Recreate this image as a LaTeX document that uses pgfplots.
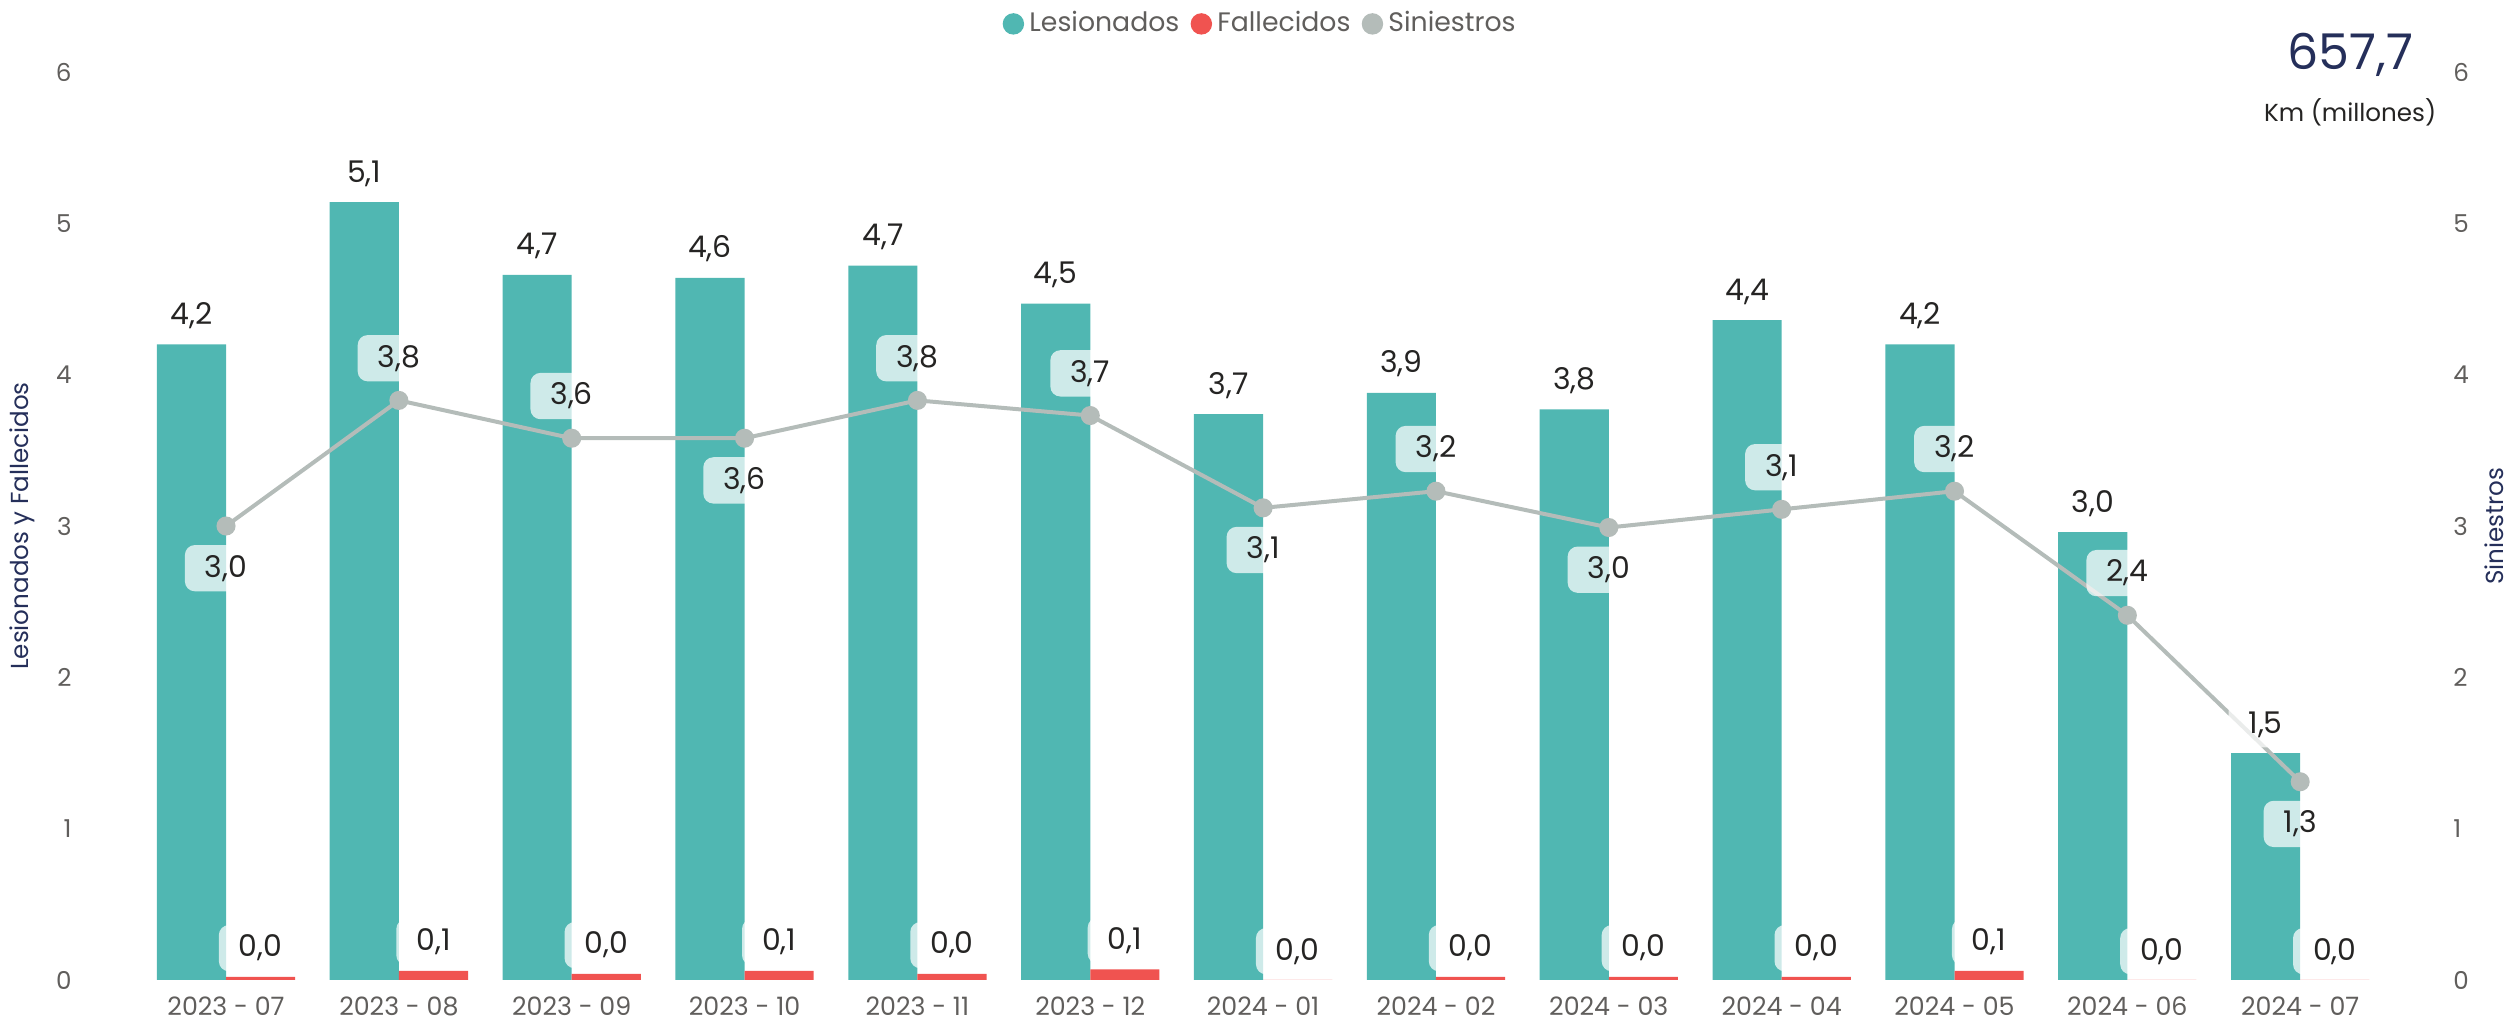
\documentclass[border=0pt]{standalone}
\usepackage{pgfplots}
\pgfplotsset{compat=1.18}
\usepackage{pgfplotstable}
\usepackage{fontspec}
\setmainfont{Poppins}

\definecolor{lesion}{RGB}{80,183,178}
\definecolor{fallec}{RGB}{240,83,80}
\definecolor{sinies}{RGB}{180,188,185}
\definecolor{txt}{RGB}{37,36,35}
\definecolor{tck}{RGB}{96,94,92}
\definecolor{navy}{RGB}{37,47,90}

% x: month index, les/fal: left axis, sin: right axis, dy: label offset (pt)
\pgfplotstableread{
x les  fal  sin  dy
0 4.20 0.02 3.00 -12
1 5.14 0.06 3.83 12
2 4.66 0.04 3.58 12
3 4.64 0.06 3.58 -12
4 4.72 0.04 3.83 12
5 4.47 0.07 3.73 12
6 3.74 0.00 3.12 -12
7 3.88 0.02 3.23 12
8 3.77 0.02 2.99 -12
9 4.36 0.02 3.11 12
10 4.20 0.06 3.23 12
11 2.96 0.00 2.41 12
12 1.50 0.00 1.31 -12
}\data

\tikzset{
  lbl/.style={font=\fontsize{8.5}{10}\selectfont, text=txt, fill=white,
    fill opacity=0.72, text opacity=1, rounded corners=1mm,
    inner xsep=2mm, inner ysep=1mm},
}
\pgfplotsset{
  fmt/.style={nodes near coords={\pgfmathprintnumber[fixed,fixed zerofill,precision=1,use comma,assume math mode=true]{\pgfplotspointmeta}}},
  base/.style={
    at={(0,0)}, anchor=south west, scale only axis,
    width=234.5mm, height=90.8mm,
    xmin=-0.787, xmax=12.78, ymin=0, ymax=6,
    axis line style={draw=none}, tick style={draw=none},
    ytick={0,1,2,3,4,5,6},
    /pgf/number format/assume math mode=true,
    yticklabel style={font=\fontsize{7}{8}\selectfont, text=tck},
    ylabel style={font=\fontsize{7}{8}\selectfont, text=navy},
  },
}

\begin{document}
\begin{tikzpicture}
\path[use as bounding box] (-9mm,-4.2mm) rectangle (242.2mm,98mm);
\begin{axis}[base,
  xtick={0,...,12},
  xticklabels={2023 - 07,2023 - 08,2023 - 09,2023 - 10,2023 - 11,2023 - 12,2024 - 01,2024 - 02,2024 - 03,2024 - 04,2024 - 05,2024 - 06,2024 - 07},
  xticklabel style={font=\fontsize{7.2}{8}\selectfont, text=tck, yshift=-0.4mm},
  yticklabel style={xshift=-0.6mm},
  ylabel={Lesionados y Fallecidos},
  ylabel style={at={(axis description cs:0,0.5)}, anchor=center, yshift=6.8mm},
  legend style={at={(0.5,1.053)}, anchor=center, draw=none, fill=none,
    legend columns=3, font=\fontsize{7.6}{9}\selectfont, text=tck,
    /tikz/every even column/.append style={column sep=0.6mm},
    nodes={inner xsep=0.6mm},
    legend cell align=left},
]
\addlegendimage{only marks, mark=*, mark size=1mm, lesion}
\addlegendimage{only marks, mark=*, mark size=1mm, fallec}
\addlegendimage{only marks, mark=*, mark size=1mm, sinies}
\legend{Lesionados,Fallecidos,Siniestros}
% bars
\addplot[ybar, bar width=0.4, bar shift=-0.2, fill=lesion, draw=none] table[x=x,y=les]{\data};
\addplot[ybar, bar width=0.4, bar shift=0.2, fill=fallec, draw=none] table[x=x,y=fal]{\data};
% siniestros line (same 0-6 scale as the right axis)
\addplot[sinies, line width=0.4mm, mark=*, mark size=0.75mm, fmt,
  visualization depends on={\thisrow{dy} \as \ldy},
  every node near coord/.append style={lbl, anchor=center, yshift=\ldy}]
  table[x=x,y=sin]{\data};
% bar labels on top of everything, centred on each bar
\addplot[draw=none, mark=none, fmt,
  every node near coord/.append style={lbl, anchor=south, yshift=0.5mm}]
  table[x expr=\thisrow{x}-0.2, y=les]{\data};
\addplot[draw=none, mark=none, fmt,
  every node near coord/.append style={lbl, anchor=south, yshift=0.5mm}]
  table[x expr=\thisrow{x}+0.2, y=fal]{\data};
\end{axis}
\begin{axis}[base,
  clip=false,
  hide x axis,
  axis y line*=right,
  yticklabel style={xshift=0.6mm},
  ylabel={Siniestros},
  ylabel style={at={(axis description cs:1,0.5)}, anchor=center, yshift=-5.9mm},
]
\node[font=\fontsize{14}{15}\selectfont, text=navy] at (axis description cs:0.9638,1.019) {657,7};
\node[font=\fontsize{7}{8}\selectfont, text=txt] at (axis description cs:0.9638,0.956) {Km (millones)};
\end{axis}
\end{tikzpicture}
\end{document}
